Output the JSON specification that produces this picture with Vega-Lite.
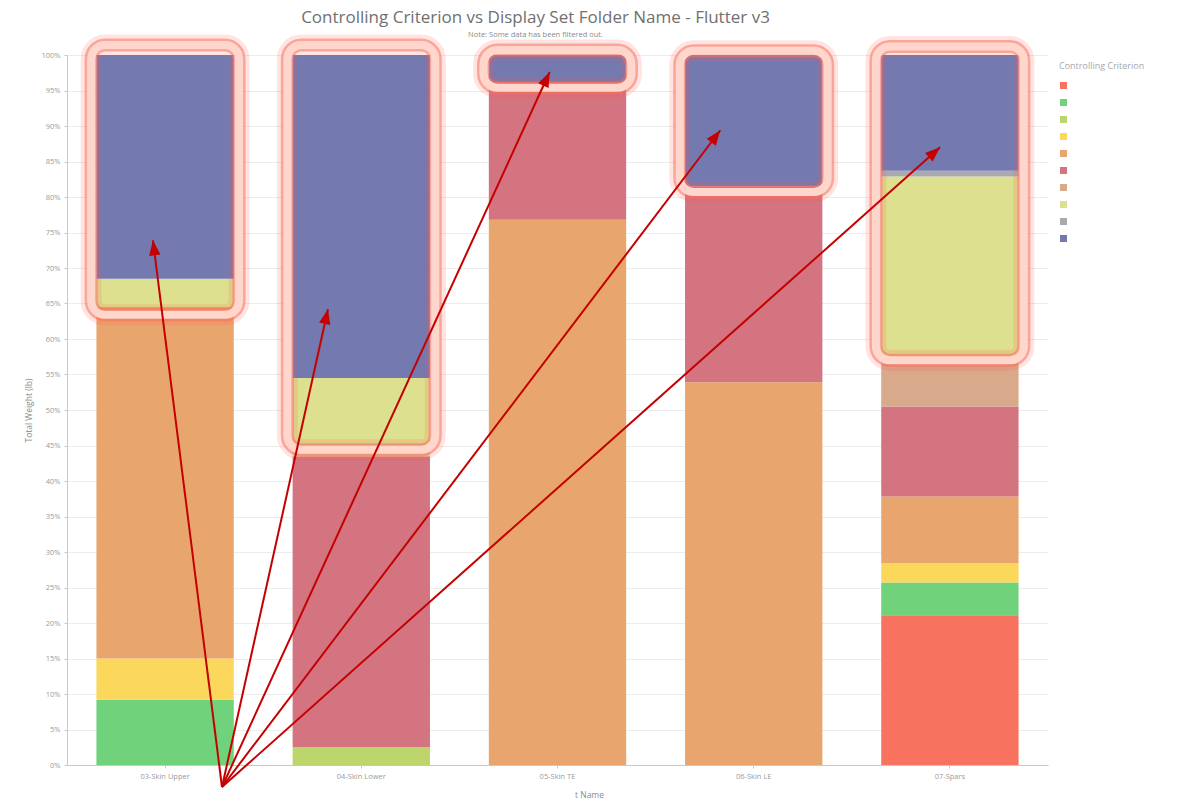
{
  "$schema": "https://vega.github.io/schema/vega-lite/v6.json",
  "width": 981,
  "height": 710,
  "autosize": {"type": "none"},
  "padding": {"left": 67, "top": 55, "right": 132, "bottom": 38},
  "background": "white",
  "title": {
    "text": "Controlling Criterion vs Display Set Folder Name - Flutter v3",
    "subtitle": "Note: Some data has been filtered out.",
    "anchor": "middle",
    "dx": -22,
    "dy": 19,
    "font": "Open Sans",
    "fontSize": 17,
    "fontWeight": "normal",
    "color": "#707070",
    "subtitleFont": "Open Sans",
    "subtitleFontSize": 7.5,
    "subtitleColor": "#8a8a8a",
    "subtitlePadding": 4,
    "offset": 14
  },
  "config": {
    "view": {"stroke": null},
    "font": "Open Sans"
  },
  "datasets": {
    "weights": [
      {"folder": "03-Skin Upper", "criterion": "C02", "share": 0.092},
      {"folder": "03-Skin Upper", "criterion": "C04", "share": 0.058},
      {"folder": "03-Skin Upper", "criterion": "C05", "share": 0.495},
      {"folder": "03-Skin Upper", "criterion": "C08", "share": 0.040},
      {"folder": "03-Skin Upper", "criterion": "C10", "share": 0.315},
      {"folder": "04-Skin Lower", "criterion": "C03", "share": 0.025},
      {"folder": "04-Skin Lower", "criterion": "C06", "share": 0.410},
      {"folder": "04-Skin Lower", "criterion": "C08", "share": 0.110},
      {"folder": "04-Skin Lower", "criterion": "C10", "share": 0.455},
      {"folder": "05-Skin TE", "criterion": "C05", "share": 0.768},
      {"folder": "05-Skin TE", "criterion": "C06", "share": 0.194},
      {"folder": "05-Skin TE", "criterion": "C10", "share": 0.038},
      {"folder": "06-Skin LE", "criterion": "C05", "share": 0.539},
      {"folder": "06-Skin LE", "criterion": "C06", "share": 0.276},
      {"folder": "06-Skin LE", "criterion": "C10", "share": 0.185},
      {"folder": "07-Spars", "criterion": "C01", "share": 0.211},
      {"folder": "07-Spars", "criterion": "C02", "share": 0.046},
      {"folder": "07-Spars", "criterion": "C04", "share": 0.027},
      {"folder": "07-Spars", "criterion": "C05", "share": 0.094},
      {"folder": "07-Spars", "criterion": "C06", "share": 0.127},
      {"folder": "07-Spars", "criterion": "C07", "share": 0.060},
      {"folder": "07-Spars", "criterion": "C08", "share": 0.264},
      {"folder": "07-Spars", "criterion": "C09", "share": 0.008},
      {"folder": "07-Spars", "criterion": "C10", "share": 0.163}
    ],
    "highlights": [
      {"folder": "03-Skin Upper", "lo": 0.634, "hi": 1.014},
      {"folder": "04-Skin Lower", "lo": 0.444, "hi": 1.014},
      {"folder": "05-Skin TE", "lo": 0.954, "hi": 1.007},
      {"folder": "06-Skin LE", "lo": 0.807, "hi": 1.006},
      {"folder": "07-Spars", "lo": 0.570, "hi": 1.012}
    ],
    "pointers": [
      {"baseX": 0.79, "baseY": -0.031, "tipX": 0.438, "tipY": 0.739},
      {"baseX": 0.79, "baseY": -0.031, "tipX": 1.33, "tipY": 0.642},
      {"baseX": 0.79, "baseY": -0.031, "tipX": 2.46, "tipY": 0.976},
      {"baseX": 0.79, "baseY": -0.031, "tipX": 3.33, "tipY": 0.894},
      {"baseX": 0.79, "baseY": -0.031, "tipX": 4.45, "tipY": 0.870}
    ]
  },
  "resolve": {"scale": {"x": "independent"}},
  "layer": [
    {
      "data": {"name": "weights"},
      "mark": {"type": "bar"},
      "encoding": {
        "x": {
          "field": "folder",
          "type": "nominal",
          "scale": {"paddingInner": 0.3, "paddingOuter": 0.15},
          "axis": {
            "title": "t Name",
            "titleX": 522,
            "titlePadding": 11,
            "titleFontSize": 8.5,
            "titleFontWeight": "normal",
            "titleColor": "#8a8a8a",
            "labelAngle": 0,
            "labelFontSize": 7.5,
            "labelColor": "#9a9a9a",
            "labelPadding": 4,
            "tickSize": 3,
            "tickColor": "#c8c8c8",
            "domainColor": "#c8c8c8",
            "grid": false
          }
        },
        "y": {
          "field": "share",
          "type": "quantitative",
          "stack": "normalize",
          "scale": {"domain": [0, 1], "nice": false},
          "axis": {
            "title": "Total Weight (lb)",
            "titleFontSize": 8.5,
            "titleFontWeight": "normal",
            "titleColor": "#8a8a8a",
            "titlePadding": 7,
            "values": [0, 0.05, 0.1, 0.15, 0.2, 0.25, 0.3, 0.35, 0.4, 0.45, 0.5, 0.55, 0.6, 0.65, 0.7, 0.75, 0.8, 0.85, 0.9, 0.95, 1],
            "format": ".0%",
            "labelFontSize": 7.5,
            "labelColor": "#9a9a9a",
            "labelPadding": 4,
            "labelOverlap": false,
            "tickSize": 3,
            "tickColor": "#c8c8c8",
            "domainColor": "#c8c8c8",
            "gridColor": "#ececec"
          }
        },
        "color": {
          "field": "criterion",
          "type": "nominal",
          "scale": {
            "domain": ["C01", "C02", "C03", "C04", "C05", "C06", "C07", "C08", "C09", "C10"],
            "range": ["#f7735f", "#70d27b", "#bcd66c", "#fbd75b", "#e8a66e", "#d47481", "#d9a98b", "#dde08f", "#a9a9b0", "#7479b0"]
          },
          "legend": {
            "title": "Controlling Criterion",
            "titleFontSize": 9,
            "titleFontWeight": "normal",
            "titleColor": "#a8a8a8",
            "titlePadding": 10,
            "labelExpr": "' '",
            "labelFontSize": 9,
            "rowPadding": 7,
            "symbolType": "square",
            "symbolSize": 49,
            "symbolStrokeWidth": 0,
            "offset": 4,
            "padding": 7
          }
        },
        "order": {"field": "criterion", "sort": "ascending"}
      }
    },
    {
      "data": {"name": "highlights"},
      "encoding": {
        "x": {
          "field": "folder",
          "type": "nominal",
          "scale": {"paddingInner": 0.246, "paddingOuter": 0.123},
          "axis": null
        },
        "y": {
          "field": "lo",
          "type": "quantitative",
          "scale": {"domain": [0, 1], "nice": false},
          "axis": {
            "title": "Total Weight (lb)",
            "titleFontSize": 8.5,
            "titleFontWeight": "normal",
            "titleColor": "#8a8a8a",
            "titlePadding": 7,
            "values": [0, 0.05, 0.1, 0.15, 0.2, 0.25, 0.3, 0.35, 0.4, 0.45, 0.5, 0.55, 0.6, 0.65, 0.7, 0.75, 0.8, 0.85, 0.9, 0.95, 1],
            "format": ".0%",
            "labelFontSize": 7.5,
            "labelColor": "#9a9a9a",
            "labelPadding": 4,
            "labelOverlap": false,
            "tickSize": 3,
            "tickColor": "#c8c8c8",
            "domainColor": "#c8c8c8",
            "gridColor": "#ececec"
          }
        },
        "y2": {"field": "hi"}
      },
      "layer": [
        {"mark": {"type": "rect", "fill": null, "stroke": "#ff5a48", "strokeWidth": 21, "strokeOpacity": 0.16, "cornerRadius": 14}},
        {"mark": {"type": "rect", "fill": null, "stroke": "#f8705c", "strokeWidth": 13, "strokeOpacity": 0.55, "cornerRadius": 14}},
        {"mark": {"type": "rect", "fill": null, "stroke": "#ffd6cb", "strokeWidth": 8, "cornerRadius": 14}}
      ]
    },
    {
      "data": {"name": "pointers"},
      "transform": [
        {"calculate": "atan2((datum.tipX - datum.baseX) * 196.2, (datum.tipY - datum.baseY) * 710) * 180 / PI", "as": "heading"}
      ],
      "encoding": {
        "x": {"field": "tipX", "type": "quantitative", "scale": {"domain": [0, 5], "nice": false, "zero": false}, "axis": null},
        "y": {
          "field": "tipY",
          "type": "quantitative",
          "scale": {"domain": [0, 1], "nice": false},
          "axis": {
            "title": "Total Weight (lb)",
            "titleFontSize": 8.5,
            "titleFontWeight": "normal",
            "titleColor": "#8a8a8a",
            "titlePadding": 7,
            "values": [0, 0.05, 0.1, 0.15, 0.2, 0.25, 0.3, 0.35, 0.4, 0.45, 0.5, 0.55, 0.6, 0.65, 0.7, 0.75, 0.8, 0.85, 0.9, 0.95, 1],
            "format": ".0%",
            "labelFontSize": 7.5,
            "labelColor": "#9a9a9a",
            "labelPadding": 4,
            "labelOverlap": false,
            "tickSize": 3,
            "tickColor": "#c8c8c8",
            "domainColor": "#c8c8c8",
            "gridColor": "#ececec"
          }
        }
      },
      "layer": [
        {
          "mark": {"type": "rule", "color": "#c40000", "strokeWidth": 2},
          "encoding": {
            "x2": {"field": "baseX"},
            "y2": {"field": "baseY"}
          }
        },
        {
          "mark": {"type": "point", "shape": "M0,0L0.38,1L-0.38,1Z", "filled": true, "color": "#c40000", "opacity": 1, "size": 900, "strokeWidth": 0},
          "encoding": {
            "angle": {"field": "heading", "type": "quantitative", "scale": null}
          }
        }
      ]
    }
  ]
}
